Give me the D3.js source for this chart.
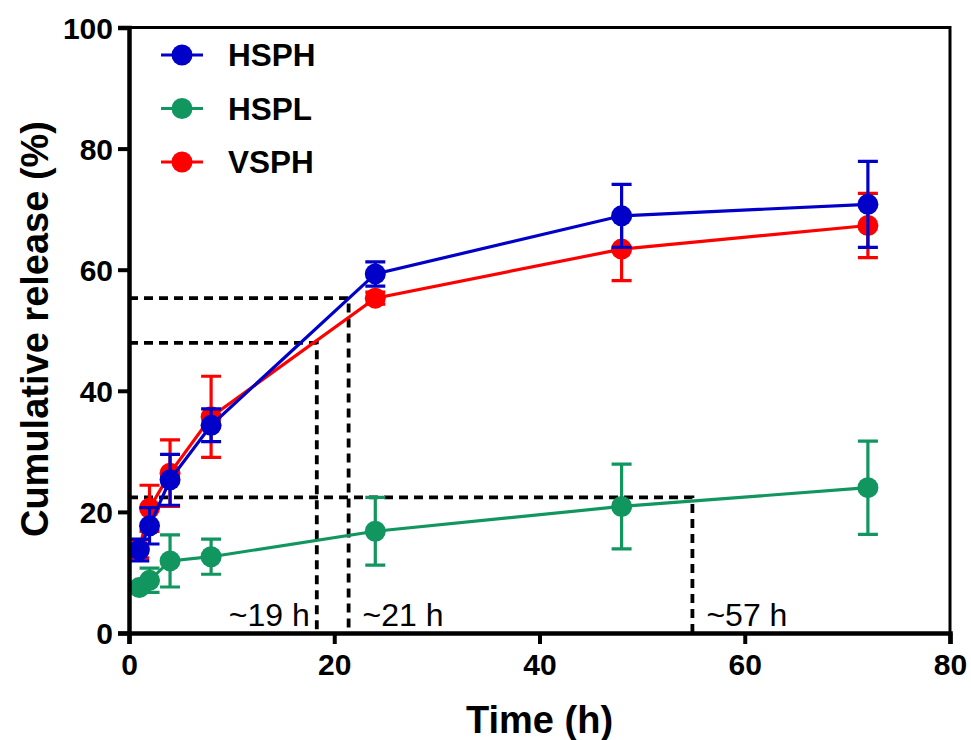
<!DOCTYPE html>
<html>
<head>
<meta charset="utf-8">
<script src="https://cdn.jsdelivr.net/npm/d3@7"></script>
<style>
  body { margin: 0; background: #fff; }
  text { font-family: "Liberation Sans", Arial, sans-serif; }
</style>
</head>
<body>
<div id="chart"></div>
<script>
// sampling times (h)
const times = [1, 2, 4, 8, 24, 48, 72]

// mean cumulative release (%) and error (sd) per formulation
const hsphMean = [13.7, 17.7, 25.3, 34.3, 59.3, 68.9, 70.8]
const hsphErr = [1.8, 3.0, 4.2, 2.7, 2.0, 5.2, 7.1]
const hsplMean = [7.5, 8.7, 11.9, 12.6, 16.8, 20.9, 24.0]
const hsplErr = [0.8, 2.0, 4.3, 2.9, 5.6, 7.0, 7.7]
const vsphMean = [13.9, 20.6, 26.4, 35.7, 55.3, 63.4, 67.3]
const vsphErr = [1.5, 3.8, 5.5, 6.7, 1.0, 5.2, 5.3]

const seriesNames = ["HSPH", "HSPL", "VSPH"]
const seriesColors = ["#0000c8", "#11965f", "#ff0000"]

// guide lines for the time to reach a given release
const refX = [18.3, 21.4, 54.9]
const refY = [47.9, 55.3, 22.4]
const refLabels = ["~19 h", "~21 h", "~57 h"]

const xTicks = [0, 20, 40, 60, 80]
const yTicks = [0, 20, 40, 60, 80, 100]

const config = {
    width: 971,
    height: 740,
    left: 129,
    right: 950,
    top: 27.5,
    bottom: 633,
    r: 10.5
}

const x = d3.scaleLinear().domain([0, 80]).range([config.left, config.right])
const y = d3.scaleLinear().domain([0, 100]).range([config.bottom, config.top])

const svg = d3.select("#chart")
    .append("svg")
    .attr("width", config.width)
    .attr("height", config.height)

// dashed guides
refX.forEach((rx, i) => {
    svg.append("path")
        .attr("d", `M${x(0)},${y(refY[i])}H${x(rx)}V${y(0)}`)
        .attr("fill", "none")
        .attr("stroke", "#000")
        .attr("stroke-width", 3.8)
        .attr("stroke-dasharray", "9,6")
})
svg.selectAll(".reflabel")
    .data(refLabels)
    .enter()
    .append("text")
    .attr("class", "reflabel")
    .attr("x", (d, i) => i === 0 ? x(refX[i]) - 7 : x(refX[i]) + 14)
    .attr("y", 626)
    .attr("text-anchor", (d, i) => i === 0 ? "end" : "start")
    .attr("font-size", 32)
    .text(d => d)

// series: green first, then red, blue on top
const series = [
    { name: "HSPL", mean: hsplMean, err: hsplErr, color: seriesColors[1] },
    { name: "VSPH", mean: vsphMean, err: vsphErr, color: seriesColors[2] },
    { name: "HSPH", mean: hsphMean, err: hsphErr, color: seriesColors[0] }
]

const line = d3.line()
    .x(d => x(d.t))
    .y(d => y(d.m))

series.forEach(s => {
    const pts = times.map((t, i) => ({ t: t, m: s.mean[i], e: s.err[i] }))
    const g = svg.append("g")
    g.append("path")
        .datum(pts)
        .attr("d", line)
        .attr("fill", "none")
        .attr("stroke", s.color)
        .attr("stroke-width", 3.2)
    g.selectAll(".eb")
        .data(pts)
        .enter()
        .append("path")
        .attr("d", d => {
            const cx = x(d.t), y1 = y(d.m + d.e), y2 = y(d.m - d.e)
            return `M${cx},${y1}V${y2}M${cx - 10},${y1}H${cx + 10}M${cx - 10},${y2}H${cx + 10}`
        })
        .attr("fill", "none")
        .attr("stroke", s.color)
        .attr("stroke-width", 3.2)
    g.selectAll("circle")
        .data(pts)
        .enter()
        .append("circle")
        .attr("cx", d => x(d.t))
        .attr("cy", d => y(d.m))
        .attr("r", config.r)
        .attr("fill", s.color)
})

// frame (top and right)
svg.append("path")
    .attr("d", `M${config.left},${config.top}H${config.right}V${config.bottom}`)
    .attr("fill", "none")
    .attr("stroke", "#000")
    .attr("stroke-width", 3)

// axes
const xAxis = svg.append("g")
    .attr("transform", `translate(0,${config.bottom})`)
    .call(d3.axisBottom(x).tickValues(xTicks).tickSizeOuter(0).tickSize(11).tickPadding(10))
const yAxis = svg.append("g")
    .attr("transform", `translate(${config.left},0)`)
    .call(d3.axisLeft(y).tickValues(yTicks).tickSizeOuter(0).tickSize(11).tickPadding(5))

;[xAxis, yAxis].forEach(a => {
    a.select(".domain").attr("stroke-width", 4.5).attr("stroke", "#000")
    a.selectAll(".tick line").attr("stroke-width", 4).attr("stroke", "#000")
    a.selectAll(".tick text")
        .attr("font-size", 30)
        .attr("font-weight", "bold")
        .attr("font-family", "Liberation Sans, Arial, sans-serif")
        .attr("fill", "#000")
})
yAxis.selectAll(".tick text").attr("dy", "0.36em")

// axis titles
svg.append("text")
    .attr("x", (config.left + config.right) / 2)
    .attr("y", 733)
    .attr("text-anchor", "middle")
    .attr("font-size", 38)
    .attr("font-weight", "bold")
    .text("Time (h)")
svg.append("text")
    .attr("transform", `translate(48,329) rotate(-90)`)
    .attr("text-anchor", "middle")
    .attr("font-size", 38)
    .attr("font-weight", "bold")
    .text("Cumulative release (%)")

// legend
const legend = svg.selectAll(".legend")
    .data(seriesNames)
    .enter()
    .append("g")
    .attr("class", "legend")
    .attr("transform", (d, i) => `translate(182,${55 + i * 53.5})`)
legend.append("line")
    .attr("x1", -21).attr("x2", 21)
    .attr("stroke", (d, i) => seriesColors[i])
    .attr("stroke-width", 3.2)
legend.append("circle")
    .attr("r", config.r)
    .attr("fill", (d, i) => seriesColors[i])
legend.append("text")
    .attr("x", 46)
    .attr("dy", "0.36em")
    .attr("font-size", 31.5)
    .attr("font-weight", "bold")
    .text(d => d)
</script>
</body>
</html>
